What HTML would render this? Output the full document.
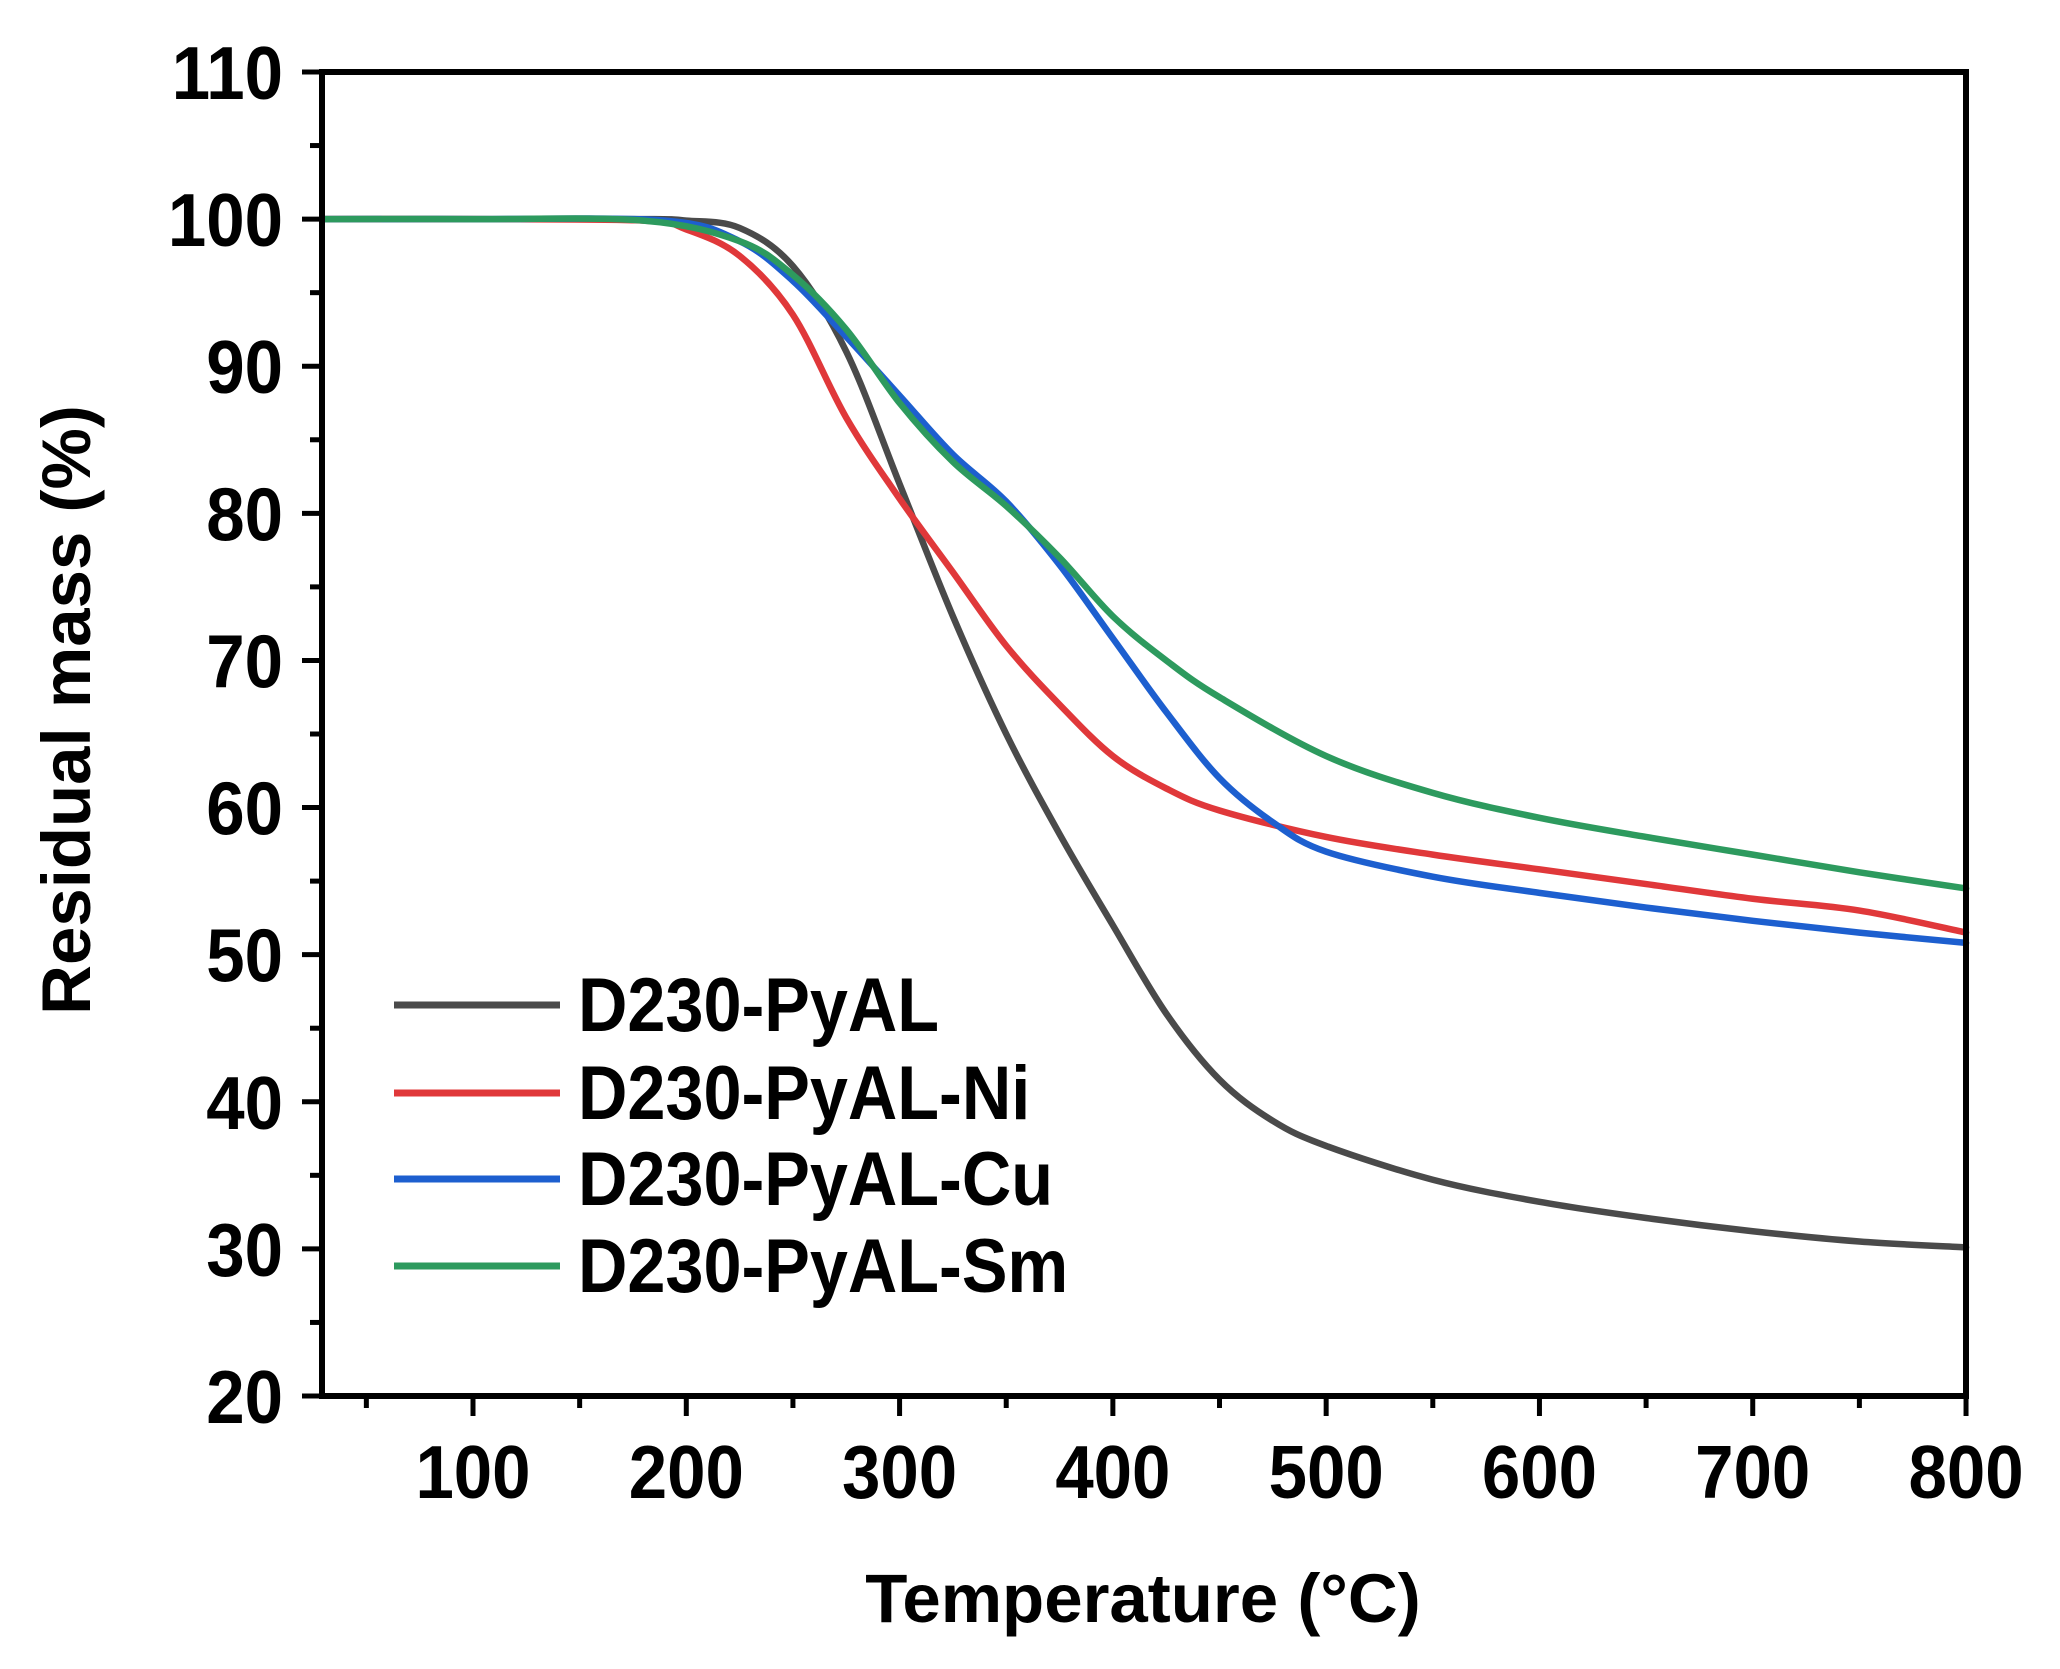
<!DOCTYPE html>
<html><head><meta charset="utf-8"><style>
html,body{margin:0;padding:0;background:#fff;}
svg{display:block;font-family:"Liberation Sans",Arial,sans-serif;font-weight:bold;}
</style></head><body>
<svg id="s" width="2060" height="1669" viewBox="0 0 2060 1669" xmlns="http://www.w3.org/2000/svg">
<g id="ticks" stroke="#000" stroke-width="5"></g>
<g id="curves" fill="none" stroke-width="6.5" stroke-linejoin="round" stroke-linecap="round"></g>
<rect x="322" y="72" width="1644" height="1324" fill="none" stroke="#000" stroke-width="6"/>
<g id="labels" font-size="75" fill="#000"></g>
<g fill="#000">
<line x1="394" y1="1005" x2="560" y2="1005" stroke="#4a4a4a" stroke-width="7"/>
<line x1="394" y1="1093" x2="560" y2="1093" stroke="#e0383a" stroke-width="7"/>
<line x1="394" y1="1179" x2="560" y2="1179" stroke="#1d5fcf" stroke-width="7"/>
<line x1="394" y1="1266" x2="560" y2="1266" stroke="#2d9a5e" stroke-width="7"/>
<g font-size="76" transform="translate(578,0) scale(0.9,1)">
<text x="0" y="1031">D230-PyAL</text>
<text x="0" y="1119">D230-PyAL-Ni</text>
<text x="0" y="1205">D230-PyAL-Cu</text>
<text x="0" y="1292">D230-PyAL-Sm</text>
</g>
</g>
<text x="1143" y="1622" font-size="69" text-anchor="middle">Temperature (°C)</text>
<text transform="translate(90,710) rotate(-90)" font-size="69" text-anchor="middle">Residual mass (%)</text>
</svg>
<script>
var NS="http://www.w3.org/2000/svg";
function Xs(t){return 473+(t-100)*2.1329;}
function Y(m){return 72+(110-m)*14.711;}
var tk=document.getElementById('ticks'),lb=document.getElementById('labels');
function ln(x1,y1,x2,y2){var l=document.createElementNS(NS,'line');l.setAttribute('x1',x1);l.setAttribute('y1',y1);l.setAttribute('x2',x2);l.setAttribute('y2',y2);tk.appendChild(l);}
function tx(x,y,s,a){var t=document.createElementNS(NS,'text');t.setAttribute('text-anchor',a);t.setAttribute('transform','translate('+x+','+y+') scale(0.92,1)');t.textContent=s;lb.appendChild(t);}
for(var t=50;t<=800;t+=50){var x=Xs(t);if(t%100==0){ln(x,1396,x,1416);tx(x,1498,t,'middle');}else ln(x,1396,x,1408);}
for(var m=20;m<=110;m+=5){var y=Y(m);if(m%10==0){ln(302,y,322,y);tx(283,y+27,m,'end');}else ln(310,y,322,y);}
var data={
"#4a4a4a":[[30,100],[100,100],[180,100],[200,99.9],[225,99.4],[250,96.8],[275,91],[300,82],[325,73],[350,65],[375,58.2],[400,52],[425,46],[450,41.5],[475,38.7],[500,37],[550,34.7],[600,33.2],[650,32.1],[700,31.2],[750,30.5],[800,30.1]],
"#e0383a":[[30,100],[100,100],[180,99.9],[200,99.3],[225,97.5],[250,93.5],[275,86.5],[300,81],[325,76],[350,71],[375,67],[400,63.5],[425,61.3],[450,59.8],[500,58],[550,56.8],[600,55.8],[650,54.8],[700,53.8],[750,53],[800,51.5]],
"#1d5fcf":[[30,100],[100,100],[190,99.9],[225,98.5],[250,95.8],[275,92],[300,88],[325,84],[350,80.8],[375,76.5],[400,71.5],[425,66.5],[450,62],[475,59],[500,57],[550,55.3],[600,54.2],[650,53.2],[700,52.3],[750,51.5],[800,50.8]],
"#2d9a5e":[[30,100],[100,100],[180,99.9],[225,98.5],[250,96.2],[275,92.5],[300,87.5],[325,83.5],[350,80.5],[375,77],[400,73],[425,70],[450,67.5],[500,63.5],[550,61],[600,59.3],[650,58],[700,56.8],[750,55.6],[800,54.5]]};
var cg=document.getElementById('curves');
for(var c in data){var p=data[c].map(function(d){return [Xs(d[0]),Y(d[1])];});
var s="M"+p[0][0]+","+p[0][1];
for(var i=0;i<p.length-1;i++){var p0=p[i-1]||p[i],p1=p[i],p2=p[i+1],p3=p[i+2]||p2;
s+=" C"+(p1[0]+(p2[0]-p0[0])/6)+","+(p1[1]+(p2[1]-p0[1])/6)+" "+(p2[0]-(p3[0]-p1[0])/6)+","+(p2[1]-(p3[1]-p1[1])/6)+" "+p2[0]+","+p2[1];}
var e=document.createElementNS(NS,'path');e.setAttribute('d',s);e.setAttribute('stroke',c);cg.appendChild(e);}
</script>
</body></html>
